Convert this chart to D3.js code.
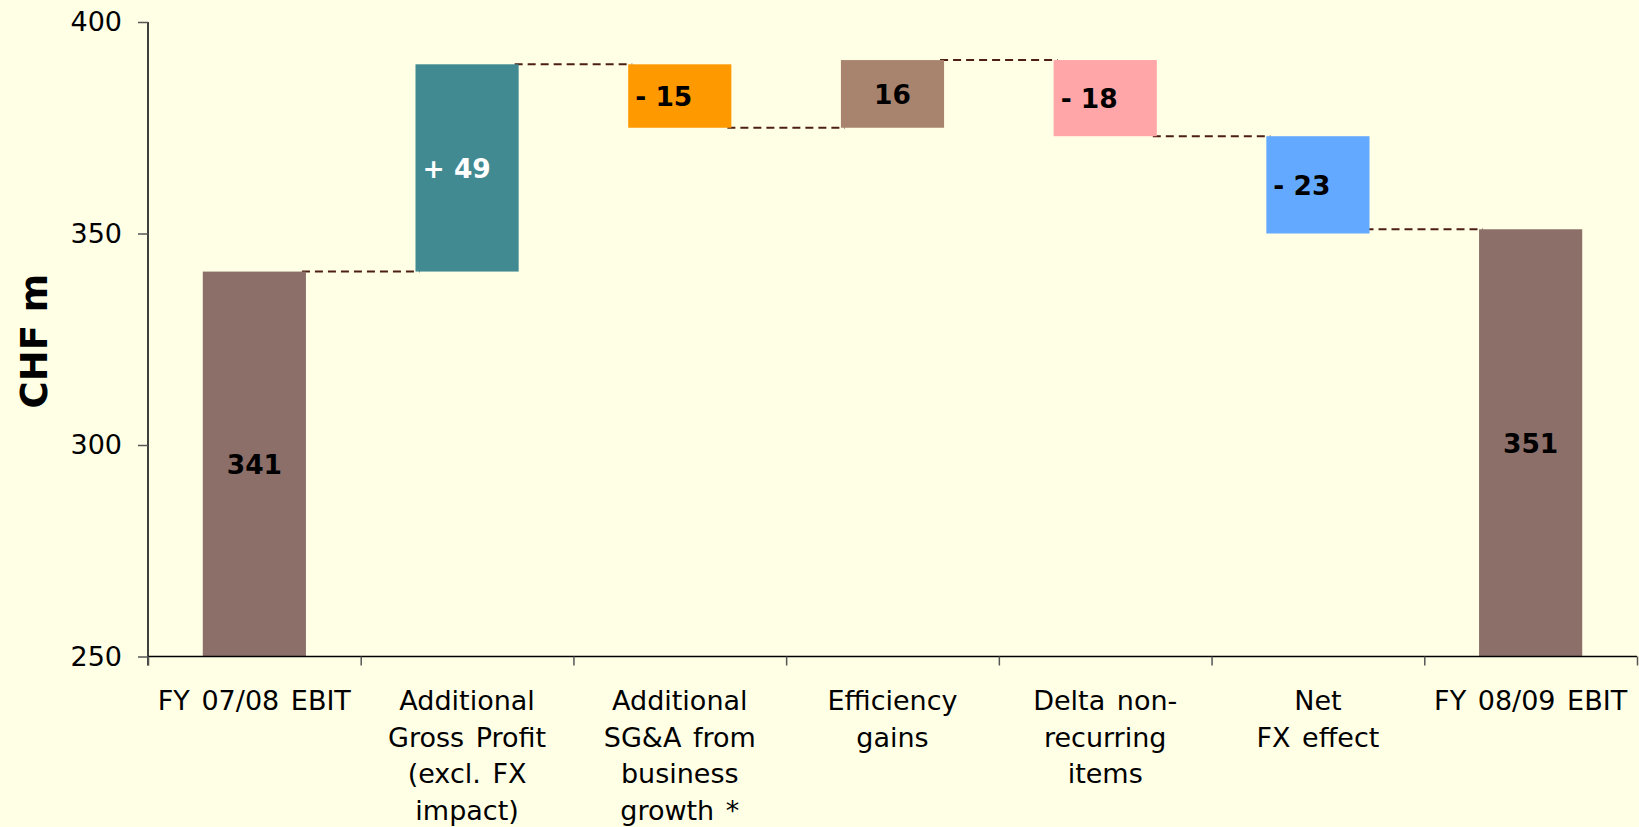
<!DOCTYPE html>
<html>
<head>
<meta charset="utf-8">
<script src="https://cdn.jsdelivr.net/npm/d3@7"></script>
<style>
  body { margin: 0; background: #ffffe6; }
  svg { display: block; }
</style>
</head>
<body>
<svg id="chart" width="1639" height="827"></svg>
<script>
// waterfall EBIT bridge, CHF m
const categories = [
  "FY 07/08 EBIT",
  "Additional\nGross Profit\n(excl. FX\nimpact)",
  "Additional\nSG&A from\nbusiness\ngrowth *",
  "Efficiency\ngains",
  "Delta non-\nrecurring\nitems",
  "Net\nFX effect",
  "FY 08/09 EBIT"
]
const startValue = 341
const deltas = [49, -15, 16, -18, -23]
const endValue = 351
const valueLabels = ["341", "+ 49", "- 15", "16", "- 18", "- 23", "351"]
const barColors = ["#8c6f69", "#418a92", "#ff9900", "#a8846f", "#ffa6a9", "#63a9ff", "#8c6f69"]
const labelColors = ["#000", "#fff", "#000", "#000", "#000", "#000", "#000"]
const yTicks = [250, 300, 350, 400]

const svg = d3.select("#chart")
const plotL = 148, plotR = 1637, plotT = 22, plotB = 656.5

const y = d3.scaleLinear().domain([250, 400]).range([plotB, plotT])
const x = d3.scaleBand().domain(categories).range([plotL, plotR]).padding(0)
const xEdge = d3.scaleLinear().domain([0, categories.length]).range([plotL, plotR])
const barW = x.bandwidth() * 0.485

// build the floating bars
let bars = []
let level = startValue
bars.push({ cat: categories[0], y0: 250, y1: startValue })
deltas.forEach((d, i) => {
  const next = level + d
  bars.push({ cat: categories[i + 1], y0: Math.min(level, next), y1: Math.max(level, next) })
  level = next
})
bars.push({ cat: categories[categories.length - 1], y0: 250, y1: endValue })

// connector levels between neighbouring bars (last one runs into the end bar)
let levels = [startValue]
let acc = startValue
deltas.forEach(d => { acc += d; levels.push(acc) })
levels[levels.length - 1] = endValue

const bx = c => x(c) + (x.bandwidth() - barW) / 2

svg.append("g").selectAll("line")
  .data(levels)
  .join("line")
  .attr("x1", (d, i) => bx(categories[i]) + barW - 4)
  .attr("x2", (d, i) => bx(categories[i + 1]) + 4)
  .attr("y1", d => y(d))
  .attr("y2", d => y(d))
  .attr("stroke", "#4d1f14")
  .attr("stroke-width", 2)
  .attr("stroke-dasharray", "8,5")

svg.append("g").selectAll("rect")
  .data(bars)
  .join("rect")
  .attr("x", d => bx(d.cat))
  .attr("width", barW)
  .attr("y", d => y(d.y1))
  .attr("height", d => y(d.y0) - y(d.y1))
  .attr("fill", (d, i) => barColors[i])

svg.append("g").selectAll("text")
  .data(bars)
  .join("text")
  .attr("x", (d, i) => /^[+-]/.test(valueLabels[i]) ? bx(d.cat) + 7 : bx(d.cat) + barW / 2)
  .attr("y", d => (y(d.y0) + y(d.y1)) / 2)
  .attr("dy", "0.38em")
  .attr("text-anchor", (d, i) => /^[+-]/.test(valueLabels[i]) ? "start" : "middle")
  .attr("font-family", "'DejaVu Sans', Verdana, sans-serif")
  .attr("font-weight", "bold")
  .attr("font-size", "26.5px")
  .attr("fill", (d, i) => labelColors[i])
  .text((d, i) => valueLabels[i])

// y axis
const yAxis = svg.append("g")
  .attr("transform", `translate(${plotL},0)`)
  .call(d3.axisLeft(y).tickValues(yTicks).tickSize(10).tickPadding(16).tickFormat(d3.format("d")))
yAxis.select(".domain").attr("stroke", "#000").attr("stroke-width", 1.5)
  .attr("d", `M0,${plotT}V${plotB + 9}`)
yAxis.selectAll(".tick line").attr("stroke", "#555").attr("stroke-width", 1.5)
yAxis.selectAll(".tick text")
  .attr("font-family", "'DejaVu Sans', Verdana, sans-serif")
  .attr("font-size", "27px")
  .attr("fill", "#000")

// x axis with ticks at category boundaries
const xAxis = svg.append("g")
  .attr("transform", `translate(0,${plotB})`)
  .call(d3.axisBottom(xEdge).tickValues(d3.range(categories.length + 1)).tickSize(9).tickFormat(""))
xAxis.select(".domain").attr("stroke", "#000").attr("stroke-width", 1.5)
  .attr("d", `M${plotL},0H${plotR}`)
xAxis.selectAll(".tick line").attr("stroke", "#555").attr("stroke-width", 1.5)

const catLabels = svg.append("g").selectAll("text")
  .data(categories)
  .join("text")
  .attr("x", d => x(d) + x.bandwidth() / 2)
  .attr("y", 710)
  .attr("text-anchor", "middle")
  .attr("font-family", "'DejaVu Sans', Verdana, sans-serif")
  .attr("font-size", "27px")
  .attr("word-spacing", "3px")
  .attr("fill", "#000")

catLabels.selectAll("tspan")
  .data(d => d.split("\n").map(t => ({ t, x: x(d) + x.bandwidth() / 2 })))
  .join("tspan")
  .attr("x", d => d.x)
  .attr("dy", (d, i) => i === 0 ? 0 : 36.7)
  .text(d => d.t)

svg.append("text")
  .attr("transform", "translate(47,341) rotate(-90)")
  .attr("text-anchor", "middle")
  .attr("font-family", "'DejaVu Sans', Verdana, sans-serif")
  .attr("font-weight", "bold")
  .attr("font-size", "37px")
  .attr("fill", "#000")
  .text("CHF m")
</script>
</body>
</html>
